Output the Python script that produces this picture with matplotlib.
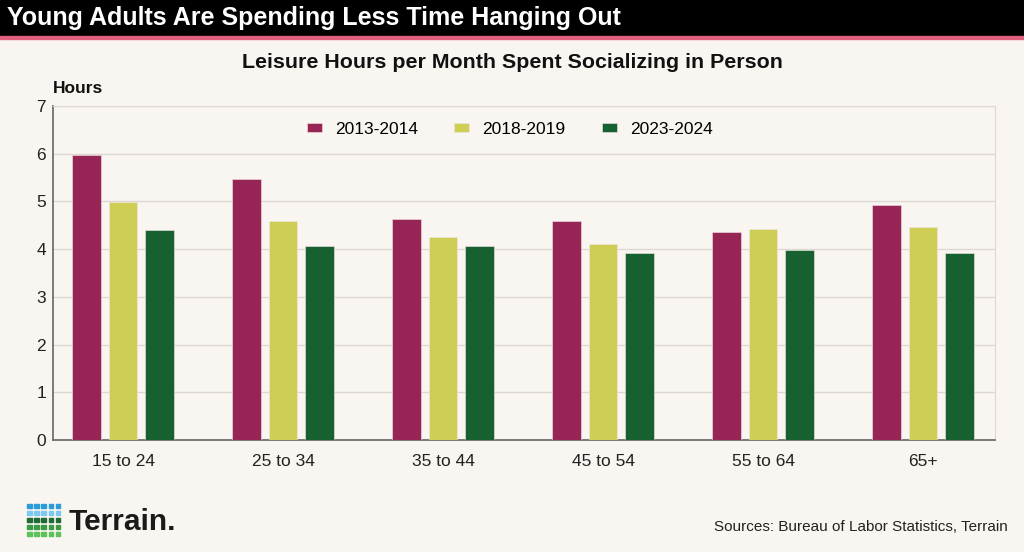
import matplotlib.pyplot as plt
import matplotlib.patches as mpatches
import numpy as np

age_groups = ['15 to 24', '25 to 34', '35 to 44', '45 to 54', '55 to 64', '65+']
periods = ['2013-2014', '2018-2019', '2023-2024']
hours_2013 = [5.97, 5.46, 4.63, 4.58, 4.36, 4.93]
hours_2018 = [4.99, 4.59, 4.26, 4.10, 4.42, 4.47]
hours_2023 = [4.40, 4.06, 4.06, 3.91, 3.98, 3.91]
colors = ['#962556', '#CDCE53', '#176131']

bg = '#F9F5F1'
fig = plt.figure(figsize=(10.24, 5.52), dpi=100, facecolor=bg)

# header bar
fig.patches.append(mpatches.Rectangle((0, 1 - 36/552), 1, 36/552, transform=fig.transFigure,
                                      color='black', zorder=0))
fig.patches.append(mpatches.Rectangle((0, 1 - 39/552), 1, 3/552, transform=fig.transFigure,
                                      color='#E0607E', zorder=0))
fig.text(7/1024, 1 - 18/552, 'Young Adults Are Spending Less Time Hanging Out', color='white',
         fontsize=18, fontweight='bold', family='Liberation Sans', va='center', ha='left')
fig.text(0.5, 1 - 62/552, 'Leisure Hours per Month Spent Socializing in Person', color='#111111',
         fontsize=15.4, fontweight='bold', family='Liberation Sans', va='center', ha='center')

ax = fig.add_axes([53/1024, 112/552, 942/1024, 334/552])
ax.set_facecolor(bg)

x = np.arange(len(age_groups))
step = 0.23
width = 0.18
for i, (vals, lab) in enumerate(zip([hours_2013, hours_2018, hours_2023], periods)):
    ax.bar(x + (i - 1) * step, vals, width, color=colors[i], label=lab,
           edgecolor='#F3E6EA', linewidth=0.4, zorder=3)

ax.set_xlim(-0.4375, 5.45)
ax.set_ylim(0, 7)
ax.set_yticks(range(8))
ax.set_xticks(x)
ax.set_xticklabels(age_groups)
ax.grid(axis='y', color='#DDD8D4', linewidth=1, zorder=0)
ax.tick_params(axis='both', length=0, labelsize=12.5, colors='#222222')
ax.tick_params(axis='x', pad=10)
ax.tick_params(axis='y', pad=5)
for lab in ax.get_xticklabels() + ax.get_yticklabels():
    lab.set_family('Liberation Sans')
for s in ['top', 'right']:
    ax.spines[s].set_color('#DDD8D4')
for s in ['left', 'bottom']:
    ax.spines[s].set_color('#666666')
    ax.spines[s].set_linewidth(1.2)

ax.text(0, 1.03, 'Hours', transform=ax.transAxes, fontsize=12.5, fontweight='bold',
        family='Liberation Sans', ha='left', va='bottom', color='#111111')

leg = ax.legend(loc='upper center', bbox_to_anchor=(0.485, 1.0), ncol=3, frameon=False,
                handlelength=0.86, handleheight=0.5, columnspacing=2.1, handletextpad=0.75,
                prop={'family': 'Liberation Sans', 'size': 12.5})

# logo
logo_cols = ['#2B9CD8', '#7CC8F0', '#1E6B35', '#3C9A45', '#5CC25A']
for r, c in enumerate(logo_cols):
    for k in range(5):
        fig.patches.append(mpatches.Rectangle(((27 + k * 7.2) / 1024, 1 - (508 + r * 7) / 552),
                                              4.5/1024, 4.5/552, transform=fig.transFigure,
                                              color=c))
fig.text(69/1024, 1 - 522/552, 'Terrain.', fontsize=21.5, fontweight='bold', family='Liberation Sans',
         color='#1A1A1A', va='center', ha='left')

fig.text(1008/1024, 1 - 527/552, 'Sources: Bureau of Labor Statistics, Terrain', fontsize=11,
         family='Liberation Sans', color='#222222', ha='right', va='center')

fig.savefig('out.png', dpi=100, facecolor=bg)
